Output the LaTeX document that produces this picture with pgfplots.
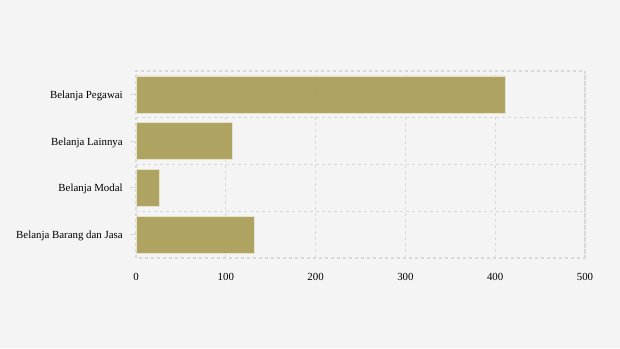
\documentclass[border=0pt]{standalone}
\usepackage{pgfplots}
\pgfplotsset{compat=1.18}
\usepackage{fontspec}
\setmainfont{Liberation Serif}
\definecolor{bg}{HTML}{F4F4F4}
\definecolor{barc}{HTML}{AB9F59}
\definecolor{gridc}{HTML}{D8D8D8}
\begin{document}
\fontsize{10.9}{13}\selectfont
\begin{tikzpicture}[x=1bp,y=1bp]
\fill[bg] (0,0) rectangle (620,348);
\begin{axis}[
  at={(136bp,90bp)}, anchor=south west,
  width=449bp, height=187bp, scale only axis,
  xbar, bar width=0.79, bar shift=0pt,
  xmin=0, xmax=500, ymin=-0.5, ymax=3.5,
  xtick={0,100,...,500},
  ytick={0,1,2,3},
  yticklabels={Belanja Barang dan Jasa, Belanja Modal, Belanja Lainnya, Belanja Pegawai},
  minor ytick={0.5,1.5,2.5},
  xmajorgrids, yminorgrids,
  grid style={gridc, dash pattern=on 3bp off 3bp, line width=1.2bp},
  axis line style={gridc, dash pattern=on 3bp off 3bp, line width=1.2bp},
  tick align=outside, ytick pos=left,
  major tick length=6bp, minor tick length=0pt,
  xtick style={draw=none},
  ytick style={gridc, line width=1.2bp, solid},
  /pgf/number format/assume math mode=true,
  ticklabel style={font=\fontsize{10.9}{13}\selectfont, text=black},
  xticklabel style={yshift=-5bp},
  yticklabel style={xshift=-3.5bp, yshift=-1.5bp},
]
\addplot[fill=barc, fill opacity=0.95, draw=barc!30!white, line width=0.5bp]
  coordinates {(131.4,0) (25.6,1) (107,2) (411,3)};
\end{axis}
\end{tikzpicture}
\end{document}
